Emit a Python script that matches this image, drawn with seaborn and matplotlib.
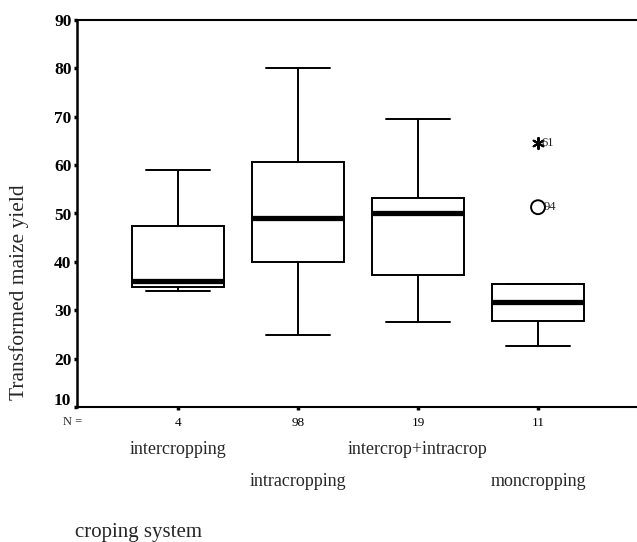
import numpy as np
import pandas as pd
import matplotlib
matplotlib.use("Agg")
import matplotlib.pyplot as plt
import matplotlib.transforms as mtransforms
import seaborn as sns

# ---- data ----
categories = ["intercropping", "intracropping", "intercrop+intracrop", "moncropping"]
n_counts = [4, 98, 19, 11]
whisker_low = [34.0, 24.9, 27.5, 22.7]
q1 = [34.9, 40.0, 37.2, 27.7]
median = [36.1, 49.0, 50.0, 31.7]
q3 = [47.5, 60.6, 53.2, 35.5]
whisker_high = [58.9, 80.1, 69.5, 35.5]
outlier_category = "moncropping"
mild_outliers = [51.3]
mild_ids = ["94"]
extreme_outliers = [64.6]
extreme_ids = ["61"]

label_rows = [0, 1, 0, 1]  # staggered category label rows

rows = []
for c, lo, a, m, b, hi in zip(categories, whisker_low, q1, median, q3, whisker_high):
    for v in (lo, a, m, b, hi):
        rows.append({"system": c, "value": v})
df = pd.DataFrame(rows)

sns.set_theme(style="white")
plt.rcParams["font.family"] = ["Liberation Serif", "DejaVu Serif"]

W, H = 637, 542
fig = plt.figure(figsize=(W / 100, H / 100), dpi=100)
ax = fig.add_axes([77 / W, 1 - 407 / H, 1 - 77 / W, (407 - 20) / H])

sns.boxplot(
    data=df, x="system", y="value", order=categories, ax=ax,
    whis=(0, 100), width=0.77, showfliers=False,
    color="white", linecolor="black", linewidth=1.4,
    medianprops={"linewidth": 3.8, "color": "black"},
    capwidths=0.53,
)

mild_df = pd.DataFrame({"system": [outlier_category] * len(mild_outliers), "value": mild_outliers})
ext_df = pd.DataFrame({"system": [outlier_category] * len(extreme_outliers), "value": extreme_outliers})
sns.stripplot(data=mild_df, x="system", y="value", order=categories, ax=ax, jitter=False,
              marker="o", s=10, facecolor="none", edgecolor="black", linewidth=1.4, color="none")
sns.stripplot(data=ext_df, x="system", y="value", order=categories, ax=ax, jitter=False,
              marker=(6, 2, 0), s=8, color="black", linewidth=1.5, edgecolor="black")

ox = categories.index(outlier_category)
for v, t in zip(mild_outliers, mild_ids):
    ax.text(ox + 0.05, v, t, fontsize=9, va="center", ha="left")
for v, t in zip(extreme_outliers, extreme_ids):
    ax.text(ox + 0.03, v, t, fontsize=9, va="center", ha="left")

ax.set_xlim(-0.842, 3.825)
ax.set_ylim(10, 90)
ax.set_yticks(np.arange(10, 91, 10))
ax.tick_params(axis="y", labelsize=12.5, length=2.5, width=2.5, direction="out",
               left=True, pad=1.5, colors="black")
ax.set_xticks(range(len(categories)))
ax.set_xticklabels([str(n) for n in n_counts])
ax.tick_params(axis="x", labelsize=9.5, length=2.5, width=2.5, direction="out",
               bottom=True, pad=5, colors="black")
ylabels = ax.get_yticklabels()
for lab in ylabels:
    lab.set_fontweight("bold")
# the lowest tick label sits slightly above its tick in the reference
ylabels[0].set_transform(ylabels[0].get_transform() +
                         mtransforms.ScaledTranslation(0, 8 / 100, fig.dpi_scale_trans))
ax.set_xlabel("")
ax.set_ylabel("")

for side in ["left", "top", "bottom"]:
    ax.spines[side].set_visible(True)
    ax.spines[side].set_color("black")
ax.spines["left"].set_linewidth(1.8)
ax.spines["bottom"].set_linewidth(1.5)
ax.spines["top"].set_linewidth(1.5)
ax.spines["right"].set_visible(False)

trans = mtransforms.blended_transform_factory(ax.transData, fig.transFigure)
row_y = [1 - 450 / H, 1 - 481 / H]
for i, (c, r) in enumerate(zip(categories, label_rows)):
    ax.text(i, row_y[r], c, transform=trans, ha="center", va="center", fontsize=13)

fig.text(73 / W, 1 - 422 / H, "N =", fontsize=9, ha="center", va="center")
fig.text(19 / W, 1 - 292 / H, "Transformed maize yield", rotation=90,
         fontsize=15.5, ha="center", va="center")
fig.text(75 / W, 1 - 533 / H, "croping system", fontsize=15, ha="left", va="center")

fig.savefig("out.png", dpi=100)
